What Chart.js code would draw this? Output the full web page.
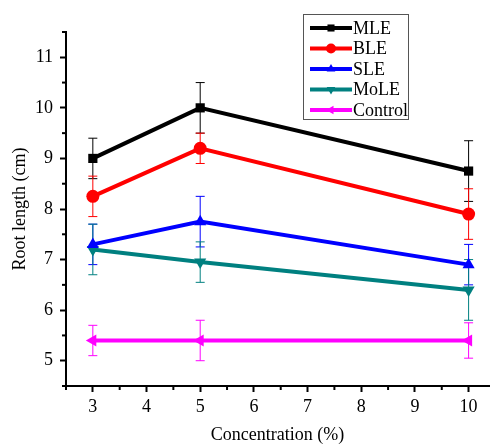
<!DOCTYPE html>
<html>
<head>
<meta charset="utf-8">
<script src="https://cdn.jsdelivr.net/npm/chart.js@4/dist/chart.umd.min.js"></script>
<style>
  html, body { margin: 0; padding: 0; background: #fff; overflow: hidden; }
  #wrap { width: 496px; height: 444px; }
</style>
</head>
<body>
<div id="wrap"><canvas id="myChart" width="496" height="444"></canvas></div>
<script>
// valores
const concentration = [3, 5, 10];
const seriesNames = ["MLE", "BLE", "SLE", "MoLE", "Control"];
const mle = [9.0, 10.0, 8.75];
const mleErr = [0.4, 0.5, 0.6];
const ble = [8.25, 9.2, 7.9];
const bleErr = [0.4, 0.3, 0.5];
const sle = [7.3, 7.75, 6.9];
const sleErr = [0.4, 0.5, 0.4];
const mole = [7.2, 6.95, 6.4];
const moleErr = [0.5, 0.4, 0.6];
const control = [5.4, 5.4, 5.4];
const controlErr = [0.3, 0.4, 0.35];

const colors = ["#000000", "#ff0000", "#0000ff", "#008080", "#ff00ff"];
const markers = ["rect", "circle", "triangle", "triangle", "triangle"];
const rotations = [0, 0, 0, 180, 270];
const values = [mle, ble, sle, mole, control];
const errors = [mleErr, bleErr, sleErr, moleErr, controlErr];

const FONT = "'Liberation Serif', serif";
Chart.defaults.font.family = FONT;
Chart.defaults.color = "#000";

let datasets = seriesNames.map((name, i) => ({
    label: name,
    data: concentration.map((c, j) => ({ x: c, y: values[i][j] })),
    borderColor: colors[i],
    backgroundColor: colors[i],
    borderWidth: 4,
    pointStyle: markers[i],
    rotation: rotations[i],
    pointRadius: markers[i] == "triangle" ? 7 : 6.5,
    pointBorderWidth: 0,
    tension: 0,
    errors: errors[i]
}));

// barras de error
const errorBars = {
    id: "errorBars",
    beforeDatasetsDraw(chart) {
        const ctx = chart.ctx;
        const xs = chart.scales.x, ys = chart.scales.y;
        ctx.save();
        ctx.lineWidth = 1;
        chart.data.datasets.forEach(ds => {
            ctx.strokeStyle = ds.borderColor;
            ds.data.forEach((p, j) => {
                const e = ds.errors[j];
                const x = xs.getPixelForValue(p.x);
                const y1 = ys.getPixelForValue(p.y + e);
                const y2 = ys.getPixelForValue(p.y - e);
                ctx.beginPath();
                ctx.moveTo(x, y1); ctx.lineTo(x, y2);
                ctx.moveTo(x - 4.5, y1); ctx.lineTo(x + 4.5, y1);
                ctx.moveTo(x - 4.5, y2); ctx.lineTo(x + 4.5, y2);
                ctx.stroke();
            });
        });
        ctx.restore();
    }
};

// ticks menores + leyenda
const extras = {
    id: "extras",
    afterDraw(chart) {
        const ctx = chart.ctx;
        const xs = chart.scales.x, ys = chart.scales.y;
        const area = chart.chartArea;
        ctx.save();
        ctx.strokeStyle = "#000";
        ctx.lineWidth = 2;
        xs.ticks.forEach(t => {
            if (t.value % 1 !== 0) {
                const x = xs.getPixelForValue(t.value);
                ctx.beginPath();
                ctx.moveTo(x, area.bottom); ctx.lineTo(x, area.bottom + 4);
                ctx.stroke();
            }
        });
        ys.ticks.forEach(t => {
            if (t.value % 1 !== 0) {
                const y = ys.getPixelForValue(t.value);
                ctx.beginPath();
                ctx.moveTo(area.left, y); ctx.lineTo(area.left - 4, y);
                ctx.stroke();
            }
        });

        // leyenda
        const bx = 303.5, by = 14.5, bw = 105, bh = 105;
        ctx.lineWidth = 1;
        ctx.strokeStyle = "#555";
        ctx.strokeRect(bx, by, bw, bh);
        ctx.font = "18px " + FONT;
        ctx.textBaseline = "middle";
        ctx.fillStyle = "#000";
        chart.data.datasets.forEach((ds, i) => {
            const y = 28 + i * 20.5;
            ctx.strokeStyle = ds.borderColor;
            ctx.lineWidth = 4;
            ctx.beginPath();
            ctx.moveTo(310, y); ctx.lineTo(352, y);
            ctx.stroke();
            ctx.fillStyle = ds.borderColor;
            Chart.helpers.drawPoint(ctx, {
                pointStyle: ds.pointStyle,
                rotation: ds.rotation,
                radius: 5,
                borderWidth: 0
            }, 331, y);
            ctx.fillStyle = "#000";
            ctx.fillText(ds.label, 353, y + 1);
        });
        ctx.restore();
    }
};

const ctx = document.getElementById("myChart");

new Chart(ctx, {
    type: "line",
    data: { datasets: datasets },
    plugins: [errorBars, extras],
    options: {
        responsive: false,
        animation: false,
        layout: { padding: { top: 32, right: 0, left: 0, bottom: 0 } },
        plugins: {
            legend: { display: false },
            tooltip: { enabled: false }
        },
        scales: {
            x: {
                type: "linear",
                min: 2.5,
                max: 10.38,
                afterFit: s => { s.height = 58; },
                ticks: {
                    stepSize: 0.5,
                    includeBounds: false,
                    autoSkip: false,
                    maxRotation: 0,
                    color: "#000",
                    padding: 4,
                    font: { family: FONT, size: 18 },
                    callback: v => (v % 1 === 0 ? String(v) : "")
                },
                grid: {
                    drawOnChartArea: false,
                    tickLength: 6,
                    tickWidth: 2,
                    tickColor: c => (c.tick && c.tick.value % 1 === 0 ? "#000" : "rgba(0,0,0,0)")
                },
                border: { color: "#000", width: 2 },
                title: {
                    display: true,
                    text: "Concentration (%)",
                    color: "#000",
                    font: { family: FONT, size: 18, lineHeight: 1 },
                    padding: { top: 0, bottom: 0 }
                }
            },
            y: {
                min: 4.5,
                max: 11.5,
                afterFit: s => { s.width = 66; },
                ticks: {
                    stepSize: 0.5,
                    autoSkip: false,
                    color: "#000",
                    padding: 7,
                    font: { family: FONT, size: 18 },
                    callback: v => (v % 1 === 0 ? String(v) : "")
                },
                grid: {
                    drawOnChartArea: false,
                    tickLength: 6,
                    tickWidth: 2,
                    tickColor: c => (c.tick && c.tick.value % 1 === 0 ? "#000" : "rgba(0,0,0,0)")
                },
                border: { color: "#000", width: 2 },
                title: {
                    display: true,
                    text: "Root length (cm)",
                    color: "#000",
                    font: { family: FONT, size: 18, lineHeight: 1.2 },
                    padding: { top: 9, bottom: 0 }
                }
            }
        }
    }
});
</script>
</body>
</html>
